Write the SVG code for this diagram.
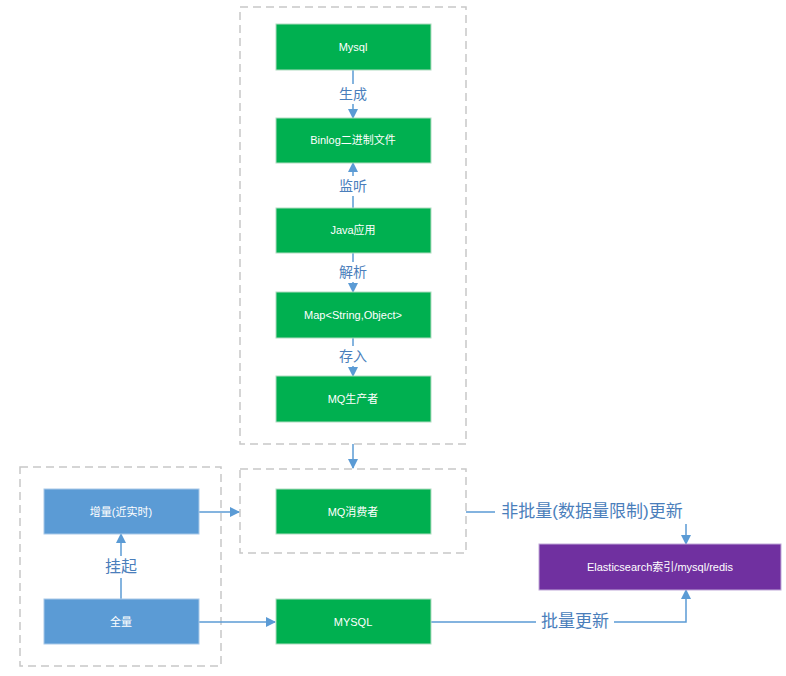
<svg xmlns="http://www.w3.org/2000/svg" width="786" height="676" viewBox="0 0 786 676">
<style>
.dash{fill:none;stroke:#c8c8c8;stroke-width:1.5;stroke-dasharray:8 5}
.g{fill:#00b050;stroke:#b0dcc0;stroke-width:1}
.b{fill:#5b9bd5;stroke:#a8c8e8;stroke-width:1}
.p{fill:#7030a0;stroke:#c0a8d8;stroke-width:1}
.t{font-family:"Liberation Sans","Noto Sans CJK SC",sans-serif;font-size:11px;fill:#fff;text-anchor:middle;dominant-baseline:central}
.l{font-family:"Liberation Sans","Noto Sans CJK SC",sans-serif;fill:#4a7ebb;text-anchor:middle;dominant-baseline:central}
.c{fill:none;stroke:#5b9bd5;stroke-width:1.5}
.bg{fill:#fff}
</style>
<defs><marker id="a" markerWidth="10" markerHeight="10" refX="9" refY="5" orient="auto" markerUnits="userSpaceOnUse"><path d="M0,0 L10,5 L0,10 z" fill="#5b9bd5"/></marker></defs>
<rect width="786" height="676" fill="#fff"/>
<rect class="dash" x="240" y="7" width="226" height="437"/>
<rect class="dash" x="240" y="469" width="226" height="84"/>
<rect class="dash" x="20" y="467" width="201" height="199"/>
<g id="connectors">
<path class="c" d="M353,70 V118" marker-end="url(#a)"/>
<path class="c" d="M353,208 V163" marker-end="url(#a)"/>
<path class="c" d="M353,253 V292" marker-end="url(#a)"/>
<path class="c" d="M353,338 V376" marker-end="url(#a)"/>
<path class="c" d="M353,444 V468" marker-end="url(#a)"/>
<path class="c" d="M121,599 V534" marker-end="url(#a)"/>
<path class="c" d="M199,512 H239" marker-end="url(#a)"/>
<path class="c" d="M199,622 H275" marker-end="url(#a)"/>
<path class="c" d="M431,622 H686 V590" marker-end="url(#a)"/>
<path class="c" d="M466,512 H686 V544" marker-end="url(#a)"/>
<rect class="bg" x="336" y="84" width="34" height="20"/><text class="l" x="353" y="94" font-size="14">生成</text>
<rect class="bg" x="336" y="176" width="34" height="20"/><text class="l" x="353" y="186" font-size="14">监听</text>
<rect class="bg" x="336" y="262" width="34" height="20"/><text class="l" x="353" y="272" font-size="14">解析</text>
<rect class="bg" x="336" y="346" width="34" height="20"/><text class="l" x="353" y="356" font-size="14">存入</text>
<rect class="bg" x="102" y="556" width="38" height="22"/><text class="l" x="121" y="566" font-size="16">挂起</text>
<rect class="bg" x="495" y="500" width="194" height="24"/><text class="l" x="592" y="511" font-size="17">非批量(数据量限制)更新</text>
<rect class="bg" x="536" y="610" width="78" height="24"/><text class="l" x="575" y="621" font-size="17">批量更新</text>
</g>
<g id="mysql"><rect class="g" x="276" y="24" width="155" height="46"/><text class="t" x="353" y="47">Mysql</text></g>
<g id="binlog"><rect class="g" x="276" y="118" width="155" height="45"/><text class="t" x="353" y="140">Binlog二进制文件</text></g>
<g id="java"><rect class="g" x="276" y="208" width="155" height="45"/><text class="t" x="353" y="230">Java应用</text></g>
<g id="map"><rect class="g" x="276" y="292" width="155" height="46"/><text class="t" x="353" y="315">Map&lt;String,Object&gt;</text></g>
<g id="producer"><rect class="g" x="276" y="376" width="155" height="46"/><text class="t" x="353" y="399">MQ生产者</text></g>
<g id="consumer"><rect class="g" x="276" y="489" width="155" height="45"/><text class="t" x="353" y="512">MQ消费者</text></g>
<g id="incr"><rect class="b" x="44" y="489" width="155" height="45"/><text class="t" x="121" y="512">增量(近实时)</text></g>
<g id="full"><rect class="b" x="44" y="599" width="155" height="45"/><text class="t" x="121" y="622">全量</text></g>
<g id="mysql2"><rect class="g" x="276" y="599" width="155" height="45"/><text class="t" x="353" y="622">MYSQL</text></g>
<g id="es"><rect class="p" x="539" y="544" width="242" height="46"/><text class="t" x="660" y="567">Elasticsearch索引/mysql/redis</text></g>
</svg>
